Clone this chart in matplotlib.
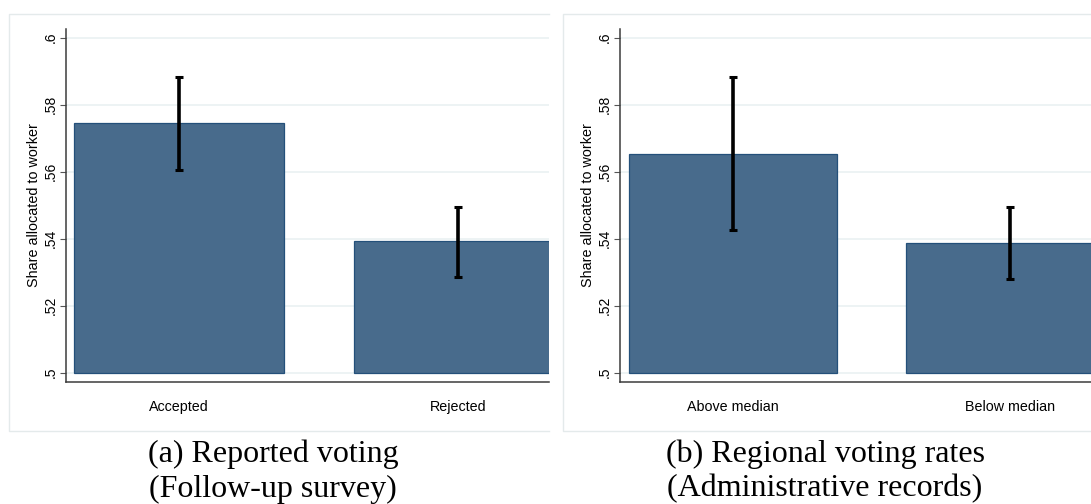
import matplotlib.pyplot as plt
from matplotlib.lines import Line2D

# left panel: reported voting (follow-up survey)
left_categories = ['Accepted', 'Rejected']
left_means = [0.5745, 0.5393]
left_lo = [0.5606, 0.5287]
left_hi = [0.5882, 0.5496]

# right panel: regional voting rates (administrative records)
right_categories = ['Above median', 'Below median']
right_means = [0.5653, 0.5387]
right_lo = [0.5427, 0.5281]
right_hi = [0.5882, 0.5494]

y_ticks = [0.5, 0.52, 0.54, 0.56, 0.58, 0.6]
y_tick_labels = ['.5', '.52', '.54', '.56', '.58', '.6']

captions = [('(a) Reported voting', '(Follow-up survey)'),
            ('(b) Regional voting rates', '(Administrative records)')]

BAR_COLOR = '#486b8c'
BAR_EDGE = '#24507a'
GRID_COLOR = '#eaf1f2'
BOX_COLOR = '#e4eaeb'

W, H = 1091, 504
plt.rcParams['font.family'] = ['Liberation Sans', 'DejaVu Sans']

fig = plt.figure(figsize=(W / 100, H / 100), dpi=100)


def px_rect(x0, x1, y0, y1):
    # pixel box (y from top) -> figure fraction rect
    return [x0 / W, 1 - y1 / H, (x1 - x0) / W, (y1 - y0) / H]


def draw_panel(x0, x1, cats, means, lo, hi, xlim):
    ax = fig.add_axes(px_rect(x0, x1, 29, 382))
    xs = list(range(len(cats)))
    heights = [m - 0.5 for m in means]
    ax.bar(xs, heights, bottom=0.5, width=0.75, color=BAR_COLOR,
           edgecolor=BAR_EDGE, linewidth=0.9, zorder=2)
    err = [[m - l for m, l in zip(means, lo)], [h - m for m, h in zip(means, hi)]]
    ax.errorbar(xs, means, yerr=err, fmt='none', ecolor='black',
                elinewidth=2.6, capsize=3.2, capthick=2.2, zorder=3)
    ax.set_xlim(*xlim)
    ax.set_ylim(0.4972, 0.6026)
    ax.set_yticks(y_ticks)
    ax.set_yticklabels(y_tick_labels, rotation=90, va='center', fontsize=10)
    ax.set_xticks(xs)
    ax.set_xticklabels(cats, fontsize=10.3)
    ax.tick_params(axis='x', length=0, pad=13)
    ax.tick_params(axis='y', length=4.3, width=0.8, color='#555555', pad=2)
    ax.set_ylabel('Share allocated to worker', fontsize=10.4)
    ax.yaxis.set_label_coords(-25 / (x1 - x0), 0.5)
    ax.grid(axis='y', color=GRID_COLOR, linewidth=1.2, zorder=0)
    ax.set_axisbelow(True)
    for side in ('top', 'right'):
        ax.spines[side].set_visible(False)
    for side in ('left', 'bottom'):
        ax.spines[side].set_color('#3c3c3c')
        ax.spines[side].set_linewidth(1.1)
    return ax


draw_panel(66, 549, left_categories, left_means, left_lo, left_hi,
           (-0.405, 1.325))
draw_panel(620, 1091, right_categories, right_means, right_lo, right_hi,
           (-0.408, 1.292))


# light graph-region borders (left one is cut off on the right)
def box_line(xs, ys):
    fig.add_artist(Line2D([x / W for x in xs], [1 - y / H for y in ys],
                          color=BOX_COLOR, linewidth=1.0))


box_line([549, 9, 9, 549], [14, 14, 431, 431])
box_line([1091, 563, 563, 1091], [14, 14, 431, 431])

for cx, (line1, line2) in zip([273, 825], captions):
    fig.text(cx / W, 1 - 454 / H, line1, ha='center', va='center',
             fontsize=23, family=['Liberation Serif', 'DejaVu Serif'])
    fig.text(cx / W, 1 - 489 / H, line2, ha='center', va='center',
             fontsize=23, family=['Liberation Serif', 'DejaVu Serif'])

fig.savefig('out.png', dpi=100, facecolor='white')
